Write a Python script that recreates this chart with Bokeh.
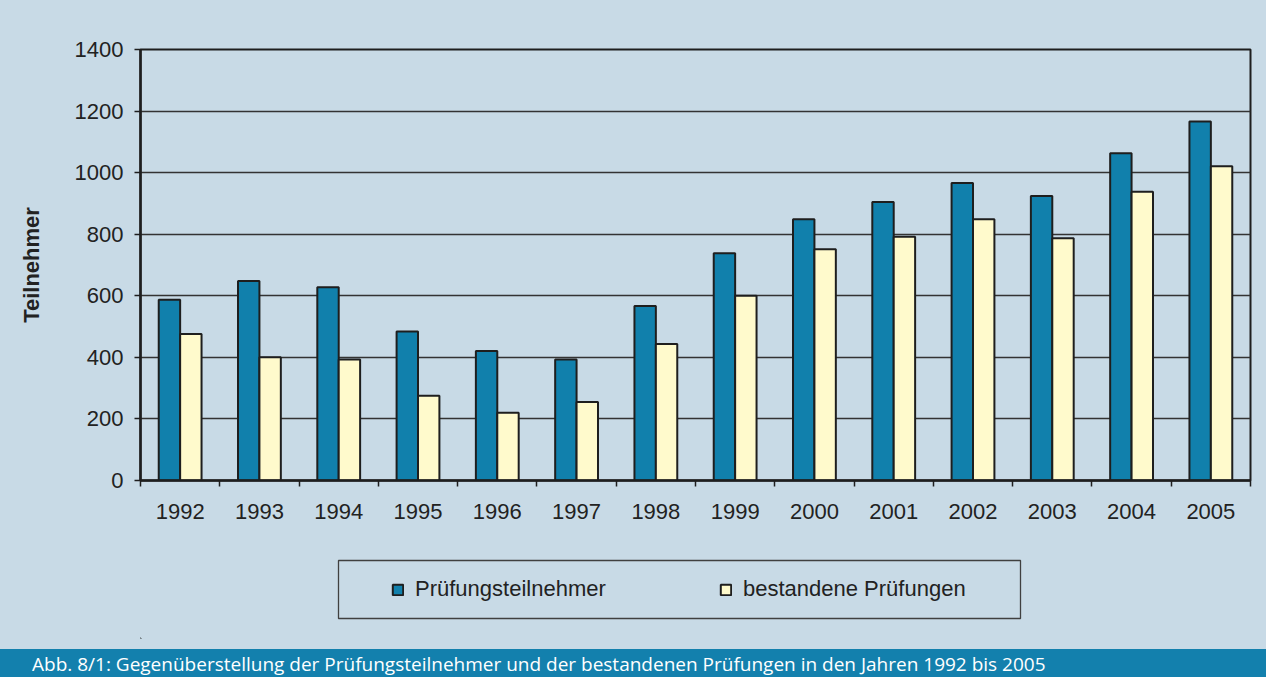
import numpy as np
from bokeh.plotting import figure
from bokeh.models import (FixedTicker, Legend, LegendItem, Div, Range1d,
                          ColumnDataSource, BoxAnnotation)
from bokeh.transform import dodge
from bokeh.layouts import column
from bokeh.embed import file_html
from bokeh.resources import INLINE

years = ["1992", "1993", "1994", "1995", "1996", "1997", "1998",
         "1999", "2000", "2001", "2002", "2003", "2004", "2005"]
teilnehmer = [587, 648, 628, 484, 421, 393, 567, 738, 849, 905, 966, 924, 1063, 1166]
bestanden = [476, 400, 393, 275, 220, 255, 443, 600, 751, 792, 849, 787, 938, 1021]
y_ticks = [0, 200, 400, 600, 800, 1000, 1200, 1400]
series_names = ["Prüfungsteilnehmer", "bestandene Prüfungen"]
caption = ("Abb. 8/1: Gegenüberstellung der Prüfungsteilnehmer und der "
           "bestandenen Prüfungen in den Jahren 1992 bis 2005")

BG = "#C8DAE6"
BLUE = "#1180AC"
YELLOW = "#FFFACC"
DARK = "#1e1e1e"
FONT = "Liberation Sans"
W = 1266

n = len(years)
idx = list(range(n))
src = ColumnDataSource(dict(x=idx, blue=teilnehmer, yellow=bestanden))

# ---------------- main chart ----------------
p = figure(width=W, height=540, x_range=Range1d(-0.5, n - 0.5),
           y_range=Range1d(0, 1400), output_backend="svg", toolbar_location=None,
           min_border_left=140, min_border_right=16, min_border_top=49,
           min_border_bottom=60, background_fill_color=BG, border_fill_color=BG,
           outline_line_color=DARK, outline_line_width=2)

bw = 0.27
rb = p.vbar(x=dodge("x", -bw / 2), top="blue", width=bw, source=src,
            fill_color=BLUE, line_color=DARK, line_width=2)
ry = p.vbar(x=dodge("x", bw / 2), top="yellow", width=bw, source=src,
            fill_color=YELLOW, line_color=DARK, line_width=2)

xa = p.xaxis[0]
xa.ticker = FixedTicker(ticks=idx, minor_ticks=[i - 0.5 for i in range(n + 1)])
xa.major_label_overrides = {i: y for i, y in zip(idx, years)}
xa.major_tick_out = 0
xa.major_tick_in = 0
xa.minor_tick_out = 6
xa.minor_tick_in = 0
xa.minor_tick_line_color = DARK
xa.minor_tick_line_width = 1.5
xa.axis_line_color = DARK
xa.axis_line_width = 2.5
xa.major_label_text_font = FONT
xa.major_label_text_font_size = "22px"
xa.major_label_text_color = "#222222"
xa.major_label_standoff = 17

ya = p.yaxis[0]
ya.ticker = FixedTicker(ticks=y_ticks)
ya.major_tick_out = 6
ya.major_tick_in = 0
ya.major_tick_line_color = DARK
ya.major_tick_line_width = 1.5
ya.axis_line_color = DARK
ya.axis_line_width = 2.5
ya.major_label_text_font = FONT
ya.major_label_text_font_size = "22px"
ya.major_label_text_color = "#222222"
ya.major_label_standoff = 11
ya.axis_label = "Teilnehmer"
ya.axis_label_text_font = FONT
ya.axis_label_text_font_size = "22px"
ya.axis_label_text_font_style = "bold"
ya.axis_label_text_color = "#222222"
ya.axis_label_standoff = 28

p.xgrid.visible = False
p.ygrid.ticker = FixedTicker(ticks=y_ticks)
p.ygrid.grid_line_color = "#333333"
p.ygrid.grid_line_width = 1.5

# ---------------- legend panel ----------------
LH = 98
lf = figure(width=W, height=109, x_range=Range1d(0, 1110), y_range=Range1d(0, LH),
            output_backend="svg", toolbar_location=None,
            x_axis_location=None, y_axis_location=None,
            min_border_left=140, min_border_right=16, min_border_top=0,
            min_border_bottom=11, background_fill_color=BG, border_fill_color=BG,
            outline_line_color=None)
lf.xgrid.visible = False
lf.ygrid.visible = False
# swatch renderers for the legend (kept far outside the visible range)
lb = lf.vbar(x=[-5000], bottom=[-5000], top=[-4999], width=1,
             fill_color=BLUE, line_color=DARK, line_width=2)
ly = lf.vbar(x=[-5000], bottom=[-5000], top=[-4999], width=1,
             fill_color=YELLOW, line_color=DARK, line_width=2)

lf.add_layout(BoxAnnotation(left=198, right=880, bottom=20, top=78,
                            fill_alpha=0, line_color="#404040", line_alpha=1.0,
                            line_width=1.3))

legend = Legend(items=[LegendItem(label=series_names[0], renderers=[lb]),
                       LegendItem(label=series_names[1], renderers=[ly])],
                location="left", orientation="horizontal", padding=0, margin=251,
                spacing=104, label_width=200, glyph_width=13, glyph_height=13,
                label_standoff=11, background_fill_alpha=0, border_line_color=None,
                label_text_font=FONT, label_text_font_size="22px",
                label_text_color="#222222")
lf.add_layout(legend)

# ---------------- caption band ----------------
cap = Div(text=('<div style="background:#1380AD;color:#ffffff;width:1266px;height:28px;'
                'line-height:31px;padding-left:32px;box-sizing:border-box;overflow:hidden;'
                'font-family:\'Open Sans\';font-size:19px;white-space:nowrap;">'
                + caption + '</div>'),
          width=W, height=28, margin=0)

layout = column(p, lf, cap, spacing=0, styles={"background-color": BG})
open("out.html", "w").write(file_html(layout, INLINE))
